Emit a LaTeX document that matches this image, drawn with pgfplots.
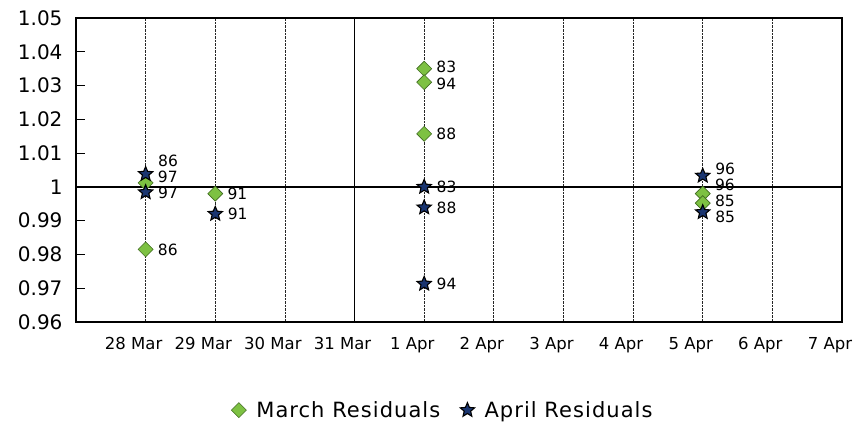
\documentclass[border=0pt]{standalone}
\usepackage{pgfplots}
\pgfplotsset{compat=1.18}
\usepackage{fontspec}
\setmainfont{DejaVu Sans}
\definecolor{mgreen}{HTML}{7DC142}
\definecolor{mgreenedge}{HTML}{3F6B1F}
\definecolor{anavy}{HTML}{1A3570}
\pgfdeclareplotmark{fstar}{%
  \pgfpathmoveto{\pgfpointpolar{90}{\pgfplotmarksize}}%
  \pgfpathlineto{\pgfpointpolar{126}{0.45\pgfplotmarksize}}%
  \pgfpathlineto{\pgfpointpolar{162}{\pgfplotmarksize}}%
  \pgfpathlineto{\pgfpointpolar{198}{0.45\pgfplotmarksize}}%
  \pgfpathlineto{\pgfpointpolar{234}{\pgfplotmarksize}}%
  \pgfpathlineto{\pgfpointpolar{270}{0.45\pgfplotmarksize}}%
  \pgfpathlineto{\pgfpointpolar{306}{\pgfplotmarksize}}%
  \pgfpathlineto{\pgfpointpolar{342}{0.45\pgfplotmarksize}}%
  \pgfpathlineto{\pgfpointpolar{18}{\pgfplotmarksize}}%
  \pgfpathlineto{\pgfpointpolar{54}{0.45\pgfplotmarksize}}%
  \pgfpathclose
  \pgfusepathqfillstroke}
\pgfplotstableread{
x y lab dy
1 0.9815 86 0
1 1.0012 97 6
2 0.9980 91 0
5 1.0350 83 2
5 1.0310 94 -2
5 1.0157 88 0
9 0.9980 96 9
9 0.9952 85 2
}\march
\pgfplotstableread{
x y lab dy
1 1.0038 86 13
1 0.9984 97 -1
2 0.9920 91 0
5 1.0000 83 0
5 0.9939 88 0
5 0.9713 94 0
9 1.0033 96 7
9 0.9925 85 -5
}\april
\begin{document}
\begin{tikzpicture}
\begin{axis}[
  at={(0,0)}, anchor=south west,
  scale only axis, width=766bp, height=304bp,
  xmin=0, xmax=11, ymin=0.96, ymax=1.05,
  xtick={1,...,11},
  xticklabels={28 Mar,29 Mar,30 Mar,31 Mar,1 Apr,2 Apr,3 Apr,4 Apr,5 Apr,6 Apr,7 Apr},
  ytick={0.96,0.97,0.98,0.99,1,1.01,1.02,1.03,1.04,1.05},
  yticklabels={0.96,0.97,0.98,0.99,1,1.01,1.02,1.03,1.04,1.05},
  xmajorgrids,
  major grid style={densely dotted, black!85, line width=0.8bp},
  x tick style={draw=none},
  ytick pos=left, tick align=inside,
  y tick style={black, line width=1bp}, major tick length=9bp,
  axis line style={line width=1.3bp},
  x tick label style={font=\fontsize{16.5bp}{19bp}\selectfont, yshift=-12bp, xshift=-12bp},
  y tick label style={font=\fontsize{20bp}{22bp}\selectfont, xshift=-10bp},
  legend style={at={(0.479,-0.29)}, anchor=center, draw=none, fill=none,
    legend columns=2, font=\fontsize{21bp}{24bp}\selectfont\addfontfeatures{LetterSpace=5},
    /tikz/every odd column/.append style={column sep=8bp},
    /tikz/every even column/.append style={column sep=18bp}},
  clip=false,
]
\draw[line width=1.3bp] (axis cs:0,1) -- (axis cs:11,1);
\draw[line width=1.3bp] (axis cs:4,0.96) -- (axis cs:4,1.05);
\addplot[only marks, mark=square*, mark size=5.3bp,
  mark options={rotate=45, fill=mgreen, draw=mgreenedge, line width=0.6bp},
  visualization depends on={\thisrow{dy} \as \dy},
  point meta=explicit symbolic, nodes near coords, nodes near coords align={anchor=west},
  every node near coord/.append style={anchor=west, xshift=12bp, yshift=\dy bp, inner sep=0pt, font=\fontsize{15.5bp}{18bp}\selectfont, text=black}]
  table[meta=lab] {\march};
\addlegendentry{March Residuals}
\addplot[only marks, mark=fstar, mark size=7.5bp,
  mark options={fill=anavy, draw=black, line width=1.1bp},
  visualization depends on={\thisrow{dy} \as \dy},
  point meta=explicit symbolic, nodes near coords, nodes near coords align={anchor=west},
  every node near coord/.append style={anchor=west, xshift=12bp, yshift=\dy bp, inner sep=0pt, font=\fontsize{15.5bp}{18bp}\selectfont, text=black}]
  table[meta=lab] {\april};
\addlegendentry{April Residuals}
\end{axis}
\pgfresetboundingbox
\path (-76bp,-106bp) rectangle (790bp,322bp);
\end{tikzpicture}
\end{document}
